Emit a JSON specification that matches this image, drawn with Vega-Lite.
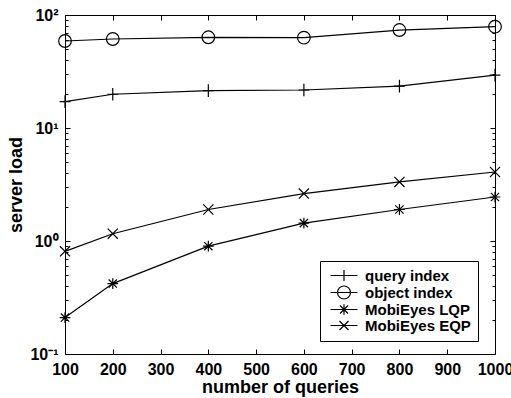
{
  "$schema": "https://vega.github.io/schema/vega-lite/v6.json",
  "width": 430,
  "height": 339,
  "autosize": "none",
  "padding": {"left": 65, "top": 15, "right": 16, "bottom": 44},
  "background": "white",
  "config": {
    "view": {"stroke": null},
    "font": "Liberation Sans",
    "axis": {
      "domainColor": "black",
      "domainWidth": 1,
      "tickColor": "black",
      "tickWidth": 1,
      "labelColor": "black",
      "titleColor": "black",
      "grid": false,
      "labelFont": "Liberation Sans",
      "labelFontSize": 16,
      "labelFontWeight": "bold",
      "titleFont": "Liberation Sans",
      "titleFontSize": 18,
      "titleFontWeight": "bold"
    }
  },
  "data": {
    "values": [
      {"n": 100, "series": "query index", "load": 17.1},
      {"n": 200, "series": "query index", "load": 19.9},
      {"n": 400, "series": "query index", "load": 21.4},
      {"n": 600, "series": "query index", "load": 21.7},
      {"n": 800, "series": "query index", "load": 23.5},
      {"n": 1000, "series": "query index", "load": 29.4},
      {"n": 100, "series": "object index", "load": 58.9},
      {"n": 200, "series": "object index", "load": 61.3},
      {"n": 400, "series": "object index", "load": 63.5},
      {"n": 600, "series": "object index", "load": 63.0},
      {"n": 800, "series": "object index", "load": 73.6},
      {"n": 1000, "series": "object index", "load": 78.8},
      {"n": 100, "series": "MobiEyes LQP", "load": 0.21},
      {"n": 200, "series": "MobiEyes LQP", "load": 0.42},
      {"n": 400, "series": "MobiEyes LQP", "load": 0.90},
      {"n": 600, "series": "MobiEyes LQP", "load": 1.44},
      {"n": 800, "series": "MobiEyes LQP", "load": 1.90},
      {"n": 1000, "series": "MobiEyes LQP", "load": 2.45},
      {"n": 100, "series": "MobiEyes EQP", "load": 0.81},
      {"n": 200, "series": "MobiEyes EQP", "load": 1.16},
      {"n": 400, "series": "MobiEyes EQP", "load": 1.90},
      {"n": 600, "series": "MobiEyes EQP", "load": 2.63},
      {"n": 800, "series": "MobiEyes EQP", "load": 3.33},
      {"n": 1000, "series": "MobiEyes EQP", "load": 4.08}
    ]
  },
  "layer": [
    {
      "mark": {"type": "line", "color": "black", "strokeWidth": 1.2},
      "encoding": {
        "x": {
          "field": "n", "type": "quantitative",
          "scale": {"domain": [100, 1000], "nice": false, "zero": false},
          "axis": {
            "orient": "bottom",
            "values": [100, 200, 300, 400, 500, 600, 700, 800, 900, 1000],
            "format": "d",
            "tickSize": -5,
            "labelPadding": 12,
            "title": "number of queries",
            "titlePadding": 1,
            "labelOverlap": false,
            "labelFlush": false
          }
        },
        "y": {
          "field": "load", "type": "quantitative",
          "scale": {"type": "log", "domain": [0.1, 100], "nice": false},
          "axis": {
            "orient": "left",
            "values": [0.1, 0.2, 0.3, 0.4, 0.5, 0.6, 0.7, 0.8, 0.9, 1, 2, 3, 4, 5, 6, 7, 8, 9, 10, 20, 30, 40, 50, 60, 70, 80, 90, 100],
            "labelExpr": "datum.value == 100 ? '10²' : datum.value == 10 ? '10¹' : datum.value == 1 ? '10⁰' : datum.value == 0.1 ? '10⁻¹' : ''",
            "tickSize": {"condition": {"test": "indexof([0.1, 1, 10, 100], datum.value) >= 0", "value": -5}, "value": -3},
            "labelPadding": 12,
            "labelOverlap": false,
            "labelFlush": false,
            "title": "server load",
            "titlePadding": 4
          }
        },
        "detail": {"field": "series"}
      }
    },
    {
      "mark": {"type": "point", "filled": false, "color": "black", "strokeWidth": 1.2, "size": 160, "opacity": 1},
      "encoding": {
        "x": {"field": "n", "type": "quantitative", "axis": null},
        "y": {"field": "load", "type": "quantitative", "axis": null},
        "shape": {
          "field": "series", "type": "nominal",
          "scale": {
            "domain": ["query index", "object index", "MobiEyes LQP", "MobiEyes EQP"],
            "range": [
              "M-0.85,0L0.85,0M0,-1L0,1",
              "circle",
              "M-0.85,0L0.85,0M0,-0.85L0,0.85M-0.65,-0.65L0.65,0.65M-0.65,0.65L0.65,-0.65",
              "M-0.8,-0.8L0.8,0.8M-0.8,0.8L0.8,-0.8"
            ]
          },
          "legend": null
        }
      }
    },
    {
      "mark": {"type": "point", "filled": false, "color": "black", "opacity": 0},
      "encoding": {
        "x": {"field": "n", "type": "quantitative", "axis": null},
        "y": {"field": "load", "type": "quantitative", "axis": null},
        "shape": {
          "field": "series", "type": "nominal",
          "scale": {
            "domain": ["query index", "object index", "MobiEyes LQP", "MobiEyes EQP"],
            "range": [
              "M-0.8,0L4.6,0M1.9,-1.1L1.9,1.1",
              "M-0.8,0L4.6,0M3.2,0A1.3,1.3 0 1,1 0.6,0A1.3,1.3 0 1,1 3.2,0",
              "M-0.8,0L4.6,0M1.9,-1.05L1.9,1.05M1.1,-0.8L2.7,0.8M1.1,0.8L2.7,-0.8",
              "M-0.8,0L4.6,0M1.0,-0.9L2.8,0.9M1.0,0.9L2.8,-0.9"
            ]
          },
          "legend": {
            "title": null,
            "orient": "none",
            "legendX": 255,
            "legendY": 246,
            "strokeColor": "black",
            "fillColor": "white",
            "padding": 7,
            "symbolSize": 100,
            "symbolStrokeWidth": 1.2,
            "symbolStrokeColor": "black",
            "symbolFillColor": "transparent",
            "symbolOpacity": 1,
            "labelFont": "Liberation Sans",
            "labelFontSize": 15,
            "labelFontWeight": "bold",
            "labelColor": "black",
            "labelOffset": 23,
            "labelLimit": 300,
            "rowPadding": -1
          }
        }
      }
    },
    {
      "mark": {"type": "point", "opacity": 0},
      "encoding": {
        "x": {
          "field": "n", "type": "quantitative",
          "axis": {
            "orient": "top",
            "values": [100, 200, 300, 400, 500, 600, 700, 800, 900, 1000],
            "tickSize": -5,
            "labels": false,
            "title": null
          }
        },
        "y": {
          "field": "load", "type": "quantitative",
          "axis": {
            "orient": "right",
            "values": [0.1, 0.2, 0.3, 0.4, 0.5, 0.6, 0.7, 0.8, 0.9, 1, 2, 3, 4, 5, 6, 7, 8, 9, 10, 20, 30, 40, 50, 60, 70, 80, 90, 100],
            "tickSize": {"condition": {"test": "indexof([0.1, 1, 10, 100], datum.value) >= 0", "value": -5}, "value": -3},
            "labels": false,
            "title": null
          }
        }
      }
    }
  ],
  "resolve": {
    "scale": {"shape": "independent"},
    "axis": {"x": "independent", "y": "independent"}
  }
}
